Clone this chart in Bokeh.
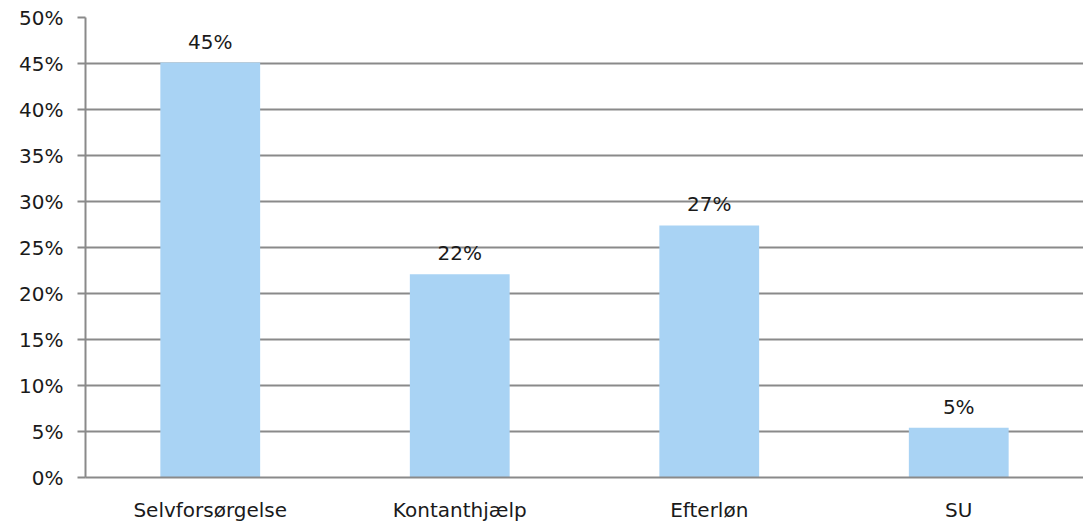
from bokeh.plotting import figure
from bokeh.models import ColumnDataSource, FactorRange, Range1d, LabelSet, FixedTicker, PrintfTickFormatter
from bokeh.core.properties import value
from bokeh.embed import file_html
from bokeh.resources import INLINE

categories = ["Selvforsørgelse", "Kontanthjælp", "Efterløn", "SU"]
values = [45.1, 22.1, 27.4, 5.4]
y_ticks = [0, 5, 10, 15, 20, 25, 30, 35, 40, 45, 50]

labels = ["%d%%" % round(v) for v in values]
source = ColumnDataSource(data=dict(cat=categories, val=values, lab=labels))

FONT = "DejaVu Sans"
FS = "20px"
GRAY = "#8a8a8a"

p = figure(width=1083, height=527, output_backend="svg", toolbar_location=None,
           x_range=FactorRange(*categories, range_padding=0), y_range=Range1d(0, 50),
           min_border_left=85, min_border_right=0, min_border_top=17, min_border_bottom=50)
p.outline_line_color = None
p.background_fill_color = "white"

p.vbar(x="cat", top="val", width=0.4, source=source, color="#a9d3f4", line_color=None)

lbl = LabelSet(x="cat", y="val", text="lab", source=source, text_align="center",
               text_baseline="middle", y_offset=21, text_font=value(FONT), text_font_size=FS,
               text_color="#1a1a1a")
p.add_layout(lbl)

p.xgrid.grid_line_color = None
p.ygrid.grid_line_color = GRAY
p.ygrid.grid_line_width = 2
p.ygrid.ticker = FixedTicker(ticks=y_ticks)

p.yaxis.ticker = FixedTicker(ticks=y_ticks)
p.yaxis.formatter = PrintfTickFormatter(format="%d%%")
p.yaxis.axis_line_color = GRAY
p.yaxis.axis_line_width = 2
p.yaxis.major_tick_line_color = GRAY
p.yaxis.major_tick_line_width = 2
p.yaxis.major_tick_out = 8
p.yaxis.major_tick_in = 0
p.yaxis.minor_tick_line_color = None
p.yaxis.major_label_standoff = 14
p.yaxis.major_label_text_font = FONT
p.yaxis.major_label_text_font_size = FS
p.yaxis.major_label_text_color = "#1a1a1a"

p.xaxis.axis_line_color = GRAY
p.xaxis.axis_line_width = 2
p.xaxis.major_tick_line_color = None
p.xaxis.minor_tick_line_color = None
p.xaxis.major_label_standoff = 14
p.xaxis.major_label_text_font = FONT
p.xaxis.major_label_text_font_size = FS
p.xaxis.major_label_text_color = "#1a1a1a"

open("out.html", "w").write(file_html(p, INLINE))
